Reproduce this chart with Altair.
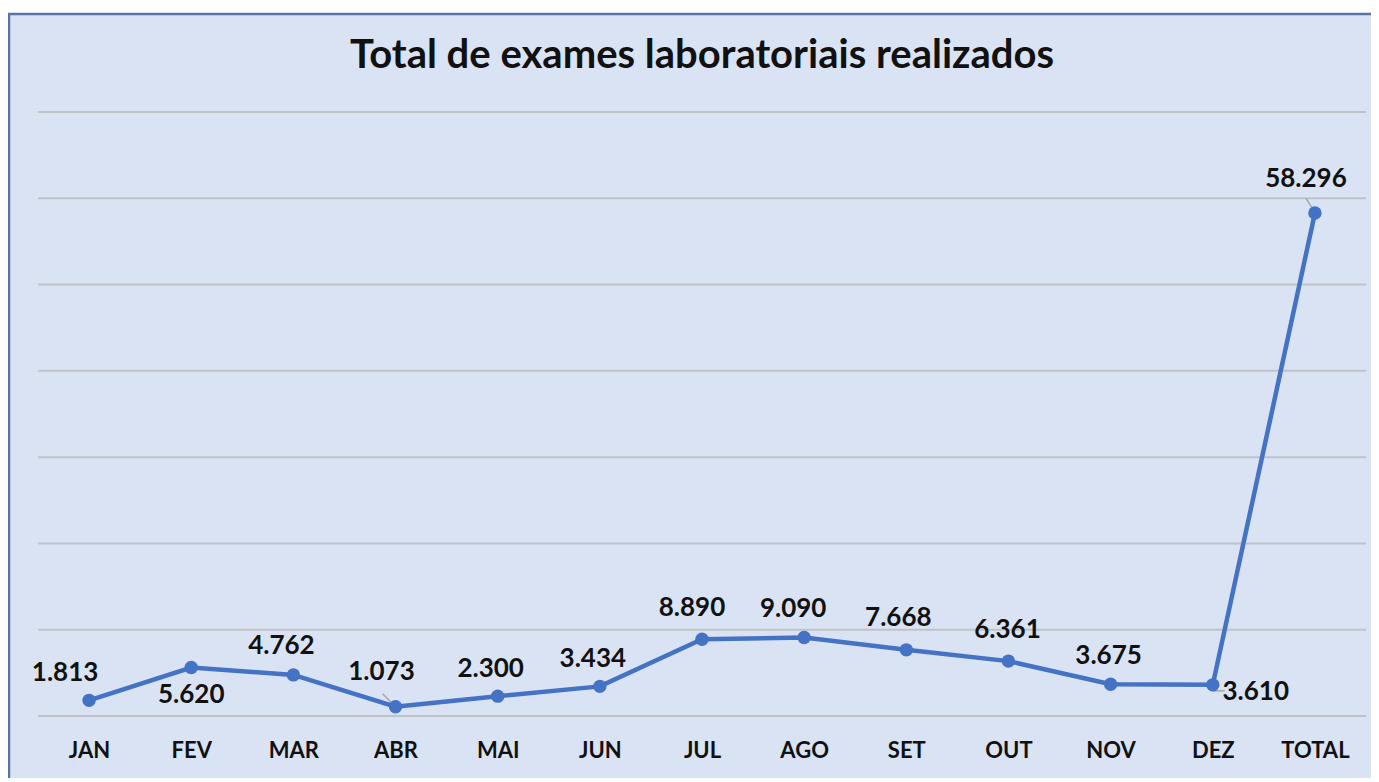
import altair as alt
import pandas as pd

meses = ["JAN", "FEV", "MAR", "ABR", "MAI", "JUN", "JUL", "AGO", "SET", "OUT", "NOV", "DEZ", "TOTAL"]
valores = [1813, 5620, 4762, 1073, 2300, 3434, 8890, 9090, 7668, 6361, 3675, 3610, 58296]
rotulos = ["1.813", "5.620", "4.762", "1.073", "2.300", "3.434", "8.890", "9.090", "7.668", "6.361", "3.675", "3.610", "58.296"]
grade = [0, 10000, 20000, 30000, 40000, 50000, 60000, 70000]
titulo = "Total de exames laboratoriais realizados"

df = pd.DataFrame({"mes": meses, "valor": valores, "rotulo": rotulos})
df_grade = pd.DataFrame({"g": grade})

# label placement (style only): dx, dy per category
offsets = {
    "JAN": (-24, -27), "FEV": (0, 27), "MAR": (-12, -29), "ABR": (-14, -35),
    "MAI": (-7, -27), "JUN": (-7, -27), "JUL": (-10, -31), "AGO": (-11, -29),
    "SET": (-8, -32), "OUT": (-1, -31), "NOV": (-2, -28), "DEZ": (43, 7),
    "TOTAL": (-9, -34),
}
# leader lines (style only): (x_off, y_off, x2_off, y2_off)
leaders = {
    "ABR": (-13, -13, -2, -2),
    "TOTAL": (-9, -15, -3, -5),
    "DEZ": (0, 6, 12, 6),
}

W, H = 1328, 604
FONT = "Lato"
yscale = alt.Scale(domain=[0, 70000], nice=False)

x_enc = alt.X("mes:N", sort=meses, title=None,
              scale=alt.Scale(type="point", padding=0.5),
              axis=alt.Axis(labelAngle=0, labelFont=FONT, labelFontSize=22,
                            labelFontWeight="bold", labelColor="#111111",
                            labelPadding=24, ticks=False, domain=False, grid=False,
                            zindex=1))
y_enc = alt.Y("valor:Q", title=None, scale=yscale, axis=None)

frame = alt.Chart(alt.Data(values=[{"a": 1}])).mark_rect(
    fill="#dae3f3", stroke="#5a72a4", strokeWidth=2.5, clip=False
).encode(x=alt.value(-29), x2=alt.value(W + 80), y=alt.value(-98), y2=alt.value(H + 120))

gridlines = alt.Chart(df_grade).mark_rule(color="#bfc3c9", strokeWidth=2).encode(
    y=alt.Y("g:Q", scale=yscale, axis=None), x=alt.value(0), x2=alt.value(W))

title_mark = alt.Chart(alt.Data(values=[{"t": titulo}])).mark_text(
    font=FONT, fontSize=40, fontWeight="bold", color="#111111",
    align="center", baseline="middle"
).encode(x=alt.value(W / 2), y=alt.value(-56), text="t:N")

base = alt.Chart(df)

leader_layers = []
for m, (xo, yo, x2o, y2o) in leaders.items():
    leader_layers.append(
        base.transform_filter(alt.datum.mes == m).mark_rule(
            color="#a6a6a6", strokeWidth=1.5,
            xOffset=xo, yOffset=yo, x2Offset=x2o, y2Offset=y2o
        ).encode(x=alt.X("mes:N", sort=meses), x2="mes:N",
                 y="valor:Q", y2="valor:Q")
    )

line = base.mark_line(color="#4472c4", strokeWidth=4.5).encode(x=x_enc, y=y_enc)
pts = base.mark_point(filled=True, color="#4472c4", size=180, opacity=1).encode(
    x=alt.X("mes:N", sort=meses), y="valor:Q")

texts = []
for m in meses:
    dx, dy = offsets[m]
    texts.append(
        base.transform_filter(alt.datum.mes == m).mark_text(
            font=FONT, fontSize=26, fontWeight="bold", color="#111111",
            dx=dx, dy=dy, align="center", baseline="middle"
        ).encode(x=alt.X("mes:N", sort=meses), y="valor:Q", text="rotulo:N")
    )

chart = alt.layer(frame, gridlines, title_mark, line, *leader_layers, pts, *texts).properties(
    width=W, height=H,
    autosize=alt.AutoSizeParams(type="none"),
    padding={"left": 30, "top": 104, "right": 5, "bottom": 62},
    background="white",
).configure_view(stroke=None)

chart.save("out.html", embed_options={"renderer": "svg", "actions": False})
